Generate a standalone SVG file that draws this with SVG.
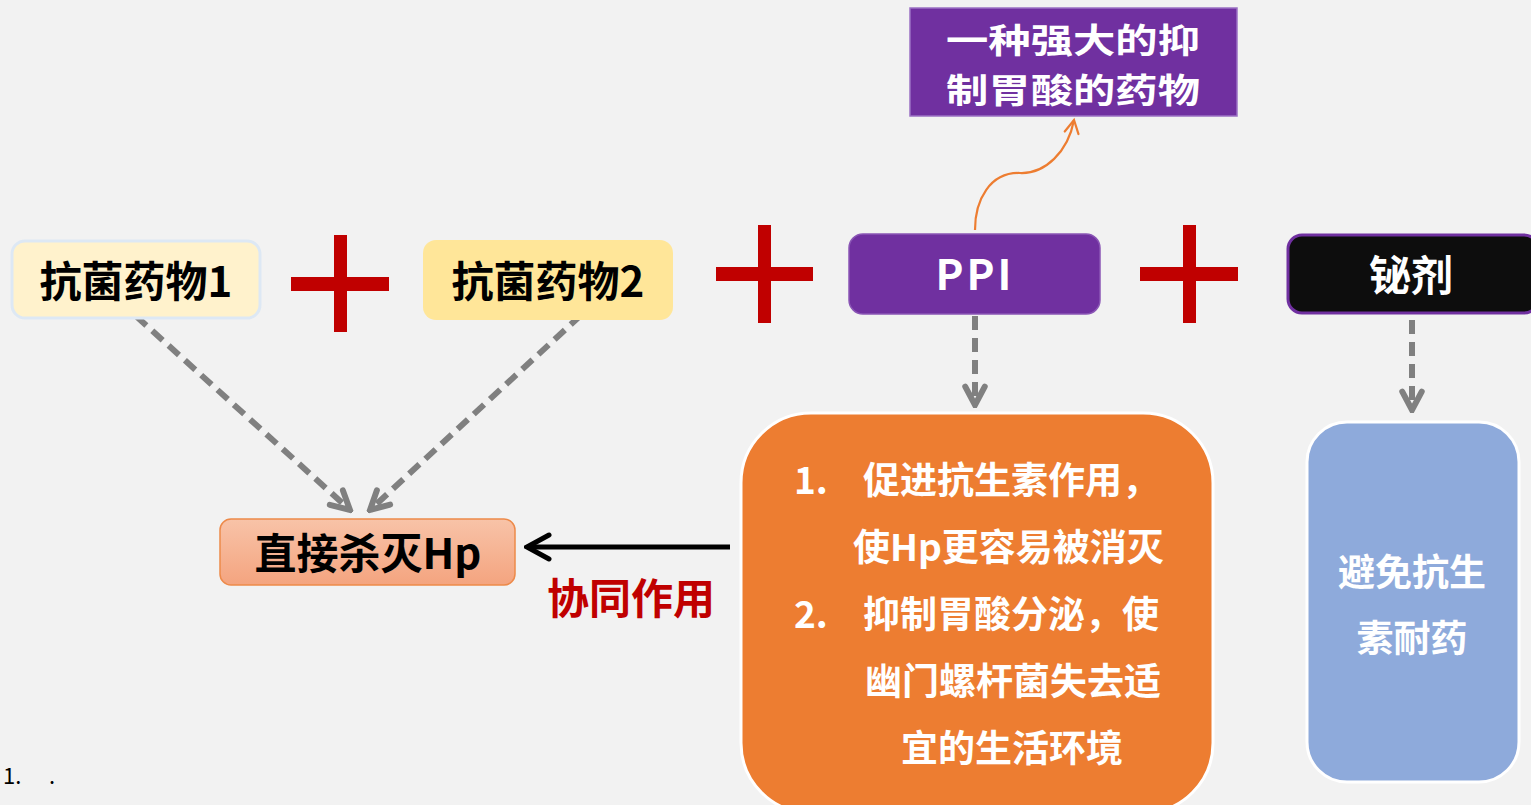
<svg xmlns="http://www.w3.org/2000/svg" width="1531" height="805" viewBox="0 0 1531 805">
  <defs>
    <style>
      text { font-family: "Noto Sans CJK SC", "Noto Sans", sans-serif; font-weight: 700; }
      .big { font-size: 42px; }
      .mid { font-size: 37px; fill: #ffffff; }
      .dash { fill: none; stroke: #808080; stroke-width: 6; stroke-dasharray: 14 8; }
      .plus { fill: #c00000; }
    </style>
    <marker id="grayHead" viewBox="0 0 24 24" refX="21" refY="12" markerWidth="26" markerHeight="26" markerUnits="userSpaceOnUse" orient="auto">
      <path d="M4,3 L21,12 L4,21" fill="none" stroke="#808080" stroke-width="5.5" stroke-linecap="round" stroke-linejoin="miter"/>
    </marker>
    <marker id="blackHead" viewBox="0 0 30 30" refX="27" refY="15" markerWidth="30" markerHeight="30" markerUnits="userSpaceOnUse" orient="auto">
      <path d="M5,3 L27,15 L5,27" fill="none" stroke="#000000" stroke-width="5" stroke-linecap="round"/>
    </marker>
    <marker id="orangeHead" viewBox="0 0 20 20" refX="17" refY="10" markerWidth="20" markerHeight="20" markerUnits="userSpaceOnUse" orient="auto">
      <path d="M4,3 L17,10 L4,17" fill="none" stroke="#ed7d31" stroke-width="2.2" stroke-linecap="round"/>
    </marker>
    <linearGradient id="salmon" x1="0" y1="0" x2="0" y2="1">
      <stop offset="0" stop-color="#f8c3a8"/>
      <stop offset="1" stop-color="#f4a47f"/>
    </linearGradient>
  </defs>

  <rect x="0" y="0" width="1531" height="805" fill="#f2f2f2"/>

  <g id="connectors">
    <line class="dash" x1="136" y1="316" x2="350" y2="510" marker-end="url(#grayHead)"/>
    <line class="dash" x1="581" y1="315" x2="370" y2="510" marker-end="url(#grayHead)"/>
    <line class="dash" x1="975" y1="316" x2="975" y2="405" marker-end="url(#grayHead)"/>
    <line class="dash" x1="1412" y1="320" x2="1412" y2="410" marker-end="url(#grayHead)"/>
    <line x1="730" y1="547" x2="527" y2="547" stroke="#000000" stroke-width="5" marker-end="url(#blackHead)"/>
    <path d="M975,230 C975,200 990,172 1020,173 C1045,174 1068,152 1074,120" fill="none" stroke="#ed7d31" stroke-width="2.2" marker-end="url(#orangeHead)"/>
  </g>

  <g id="plus1">
    <rect class="plus" x="291" y="277" width="98" height="14"/>
    <rect class="plus" x="334" y="235" width="13" height="97"/>
  </g>
  <g id="plus2">
    <rect class="plus" x="716" y="267" width="97" height="14"/>
    <rect class="plus" x="758" y="225" width="13" height="98"/>
  </g>
  <g id="plus3">
    <rect class="plus" x="1140" y="267" width="98" height="14"/>
    <rect class="plus" x="1183" y="225" width="13" height="98"/>
  </g>

  <g id="antibiotic1">
    <rect x="12" y="241" width="248" height="77" rx="13" fill="#fff2cc" stroke="#dde8f4" stroke-width="3"/>
    <text class="big" x="136" y="297" text-anchor="middle" fill="#000000">抗菌药物1</text>
  </g>

  <g id="antibiotic2">
    <rect x="423" y="240" width="250" height="80" rx="13" fill="#ffe699"/>
    <text class="big" x="548" y="297" text-anchor="middle" fill="#000000">抗菌药物2</text>
  </g>

  <g id="ppi">
    <rect x="849" y="234" width="251" height="80" rx="14" fill="#7030a0" stroke="#8a55b5" stroke-width="1.5"/>
    <text class="big" x="975" y="290" text-anchor="middle" fill="#ffffff" letter-spacing="3">PPI</text>
  </g>

  <g id="bismuth">
    <rect x="1288" y="235" width="250" height="78" rx="14" fill="#0d0d0d" stroke="#7030a0" stroke-width="3"/>
    <text class="big" x="1411" y="291" text-anchor="middle" fill="#ffffff">铋剂</text>
  </g>

  <g id="ppi-desc">
    <rect x="910" y="8" width="327" height="108" fill="#7030a0" stroke="#9b70c4" stroke-width="1.5"/>
    <text x="946" y="53" font-size="34" fill="#ffffff" textLength="254" lengthAdjust="spacingAndGlyphs">一种强大的抑</text>
    <text x="946" y="103" font-size="34" fill="#ffffff" textLength="254" lengthAdjust="spacingAndGlyphs">制胃酸的药物</text>
  </g>

  <g id="kill-hp">
    <rect x="220" y="519" width="295" height="66" rx="11" fill="url(#salmon)" stroke="#ed8a4a" stroke-width="1.5"/>
    <text class="big" x="368" y="569" text-anchor="middle" fill="#000000">直接杀灭Hp</text>
  </g>

  <g id="synergy-label">
    <text class="big" x="631" y="614" text-anchor="middle" fill="#c00000">协同作用</text>
  </g>

  <g id="ppi-effects">
    <rect x="741" y="413" width="472" height="400" rx="70" fill="#ed7d31" stroke="#ffffff" stroke-width="3"/>
    <text class="mid" x="794" y="494">1.</text>
    <text class="mid" x="863" y="494">促进抗生素作用，</text>
    <text class="mid" x="853" y="561">使Hp更容易被消灭</text>
    <text class="mid" x="794" y="628">2.</text>
    <text class="mid" x="863" y="628">抑制胃酸分泌，使</text>
    <text class="mid" x="865" y="695">幽门螺杆菌失去适</text>
    <text class="mid" x="901" y="762">宜的生活环境</text>
  </g>

  <g id="resistance">
    <rect x="1307" y="422" width="212" height="360" rx="40" fill="#8eaadb" stroke="#ffffff" stroke-width="3"/>
    <text class="mid" x="1412" y="586" text-anchor="middle">避免抗生</text>
    <text class="mid" x="1412" y="652" text-anchor="middle">素耐药</text>
  </g>

  <g id="footnote">
    <text x="3" y="784" font-size="22" style="font-weight:400" fill="#000000">1.</text>
    <text x="49" y="784" font-size="22" style="font-weight:400" fill="#000000">.</text>
  </g>
</svg>
